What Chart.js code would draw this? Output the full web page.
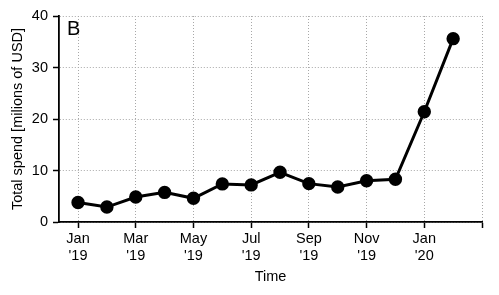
<!DOCTYPE html>
<html>
<head>
<meta charset="utf-8">
<script src="https://cdn.jsdelivr.net/npm/chart.js@4"></script>
<style>
  html, body { margin: 0; padding: 0; background: #fff; }
  #wrap { width: 499px; height: 295px; position: relative; }
</style>
</head>
<body>
<div id="wrap"><canvas id="c"></canvas></div>
<script>
// Months since Jan 2019 (0 = Jan '19)
const monthIndex = [0, 1, 2, 3, 4, 5, 6, 7, 8, 9, 10, 11, 12, 13];
const spendValues = [3.8, 2.9, 4.85, 5.75, 4.6, 7.4, 7.2, 9.65, 7.45, 6.8, 8.0, 8.3, 21.4, 35.6];
const xTickPositions = [0, 2, 4, 6, 8, 10, 12, 14];
const xTickLabels = [["Jan", "'19"], ["Mar", "'19"], ["May", "'19"], ["Jul", "'19"], ["Sep", "'19"], ["Nov", "'19"], ["Jan", "'20"], ""];
const yTicks = [0, 10, 20, 30, 40];
const panelLabel = "B";

const FONT = "'Liberation Sans', Arial, Helvetica, sans-serif";
const gridColor = "#a8a8a8";

const panelPlugin = {
  id: 'panel',
  afterDraw(chart) {
    const ctx = chart.ctx, a = chart.chartArea;
    ctx.save();
    ctx.fillStyle = '#000';
    ctx.font = "20px " + FONT;
    ctx.textAlign = 'left';
    ctx.textBaseline = 'alphabetic';
    ctx.fillText(panelLabel, a.left + 8, a.top + 19);
    ctx.restore();
  }
};

new Chart(document.getElementById('c'), {
  type: 'line',
  data: {
    datasets: [{
      data: monthIndex.map((m, i) => ({ x: m, y: spendValues[i] })),
      borderColor: '#000',
      backgroundColor: '#000',
      borderWidth: 3,
      pointRadius: 5.2,
      pointHoverRadius: 5.2,
      pointBackgroundColor: '#000',
      pointBorderColor: '#000',
      tension: 0
    }]
  },
  options: {
    responsive: true,
    maintainAspectRatio: false,
    animation: false,
    devicePixelRatio: 1,
    layout: { padding: { left: 0, right: 17, top: 16, bottom: 0 } },
    plugins: { legend: { display: false }, tooltip: { enabled: false } },
    scales: {
      x: {
        type: 'linear',
        min: -0.66,
        max: 14,
        afterBuildTicks: s => { s.ticks = xTickPositions.map(v => ({ value: v })); },
        afterFit: s => { s.height = 73; },
        ticks: {
          autoSkip: false,
          maxRotation: 0,
          padding: 3,
          color: '#000',
          font: { family: FONT, size: 14.5, lineHeight: 1.15 },
          callback: (v) => { const i = xTickPositions.indexOf(v); return i >= 0 ? xTickLabels[i] : ''; }
        },
        grid: {
          color: gridColor,
          lineWidth: 1,
          drawTicks: true,
          tickLength: 6,
          tickColor: '#000',
          tickWidth: 1.5,
          tickBorderDash: []
        },
        border: { display: true, color: '#000', width: 1.8, dash: [1, 2] },
        title: {
          display: true,
          text: 'Time',
          color: '#000',
          font: { family: FONT, size: 14.5, lineHeight: 1.2 },
          padding: { top: 0, bottom: 9.5 }
        }
      },
      y: {
        type: 'linear',
        min: 0,
        max: 40,
        afterBuildTicks: s => { s.ticks = yTicks.map(v => ({ value: v })); },
        afterFit: s => { s.width = 59; },
        ticks: {
          padding: 5,
          color: '#000',
          font: { family: FONT, size: 14.5 }
        },
        grid: {
          color: gridColor,
          lineWidth: 1,
          drawTicks: true,
          tickLength: 6,
          tickColor: '#000',
          tickWidth: 1.5,
          tickBorderDash: []
        },
        border: { display: true, color: '#000', width: 1.8, dash: [1, 2] },
        title: {
          display: true,
          text: 'Total spend [milions of USD]',
          color: '#000',
          font: { family: FONT, size: 14.5, lineHeight: 1.2 },
          padding: { top: 9, bottom: 0 }
        }
      }
    }
  },
  plugins: [panelPlugin]
});
</script>
</body>
</html>
